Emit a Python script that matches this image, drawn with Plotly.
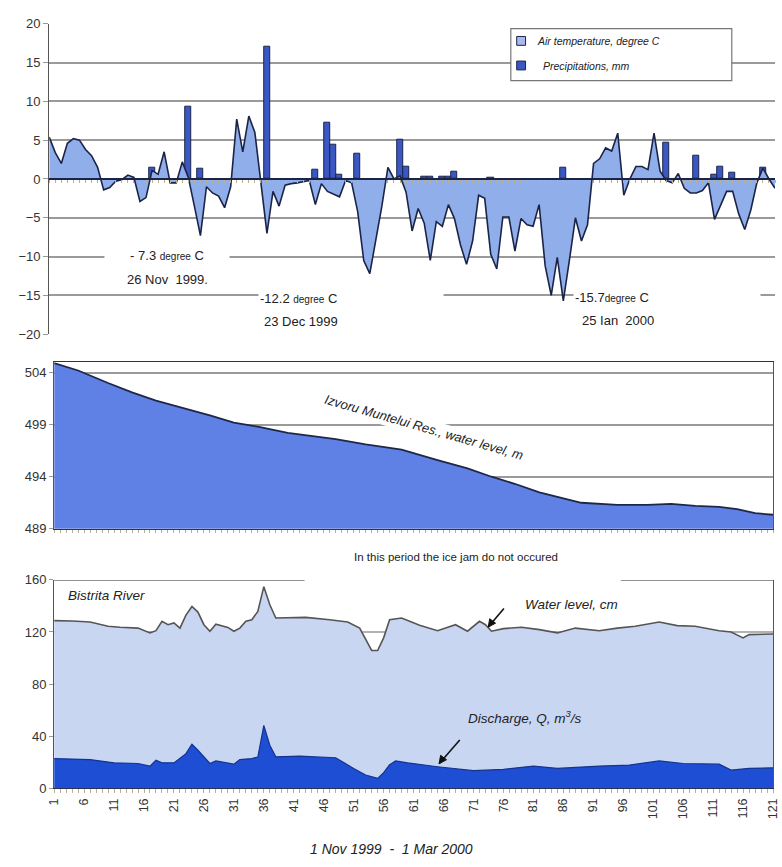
import plotly.graph_objects as go

W, H = 782, 867


def px(x):
    return x / W


def py(y):
    return 1 - y / H


# ---- daily axis (1 Nov 1999 = day 1 ... 1 Mar 2000 = day 121) ----
days = list(range(1, 122))
tick_labels = [str(d) if (d - 1) % 5 == 0 else "" for d in days]

# ---- air temperature, degree C (daily) ----
air_temp = [
    5.4, 3.4, 2.0, 4.6, 5.2, 5.0, 3.8, 3.0, 1.5, -1.4,
    -1.1, -0.3, -0.1, 0.5, 0.2, -2.9, -2.4, 1.1, 0.6, 3.5,
    -0.5, -0.5, 2.2, 0.2, -3.5, -7.3, -1.0, -1.8, -2.2, -3.7,
    -1.0, 7.7, 3.5, 8.1, 6.0, -0.5, -7.0, -1.6, -3.5, -0.8,
    -0.6, -0.5, -0.3, -0.2, -3.3, -0.6, -1.6, -1.9, -2.3, -0.2,
    -0.5, -4.2, -10.5, -12.2, -8.0, -3.5, 1.5, 0.0, 0.4, -1.7,
    -6.7, -3.8, -5.7, -10.5, -5.5, -6.1, -3.3, -5.1, -8.5, -11.0,
    -8.0, -2.1, -2.5, -9.7, -11.6, -4.9, -4.9, -9.3, -5.1, -5.9,
    -6.1, -3.3, -11.2, -15.0, -10.1, -15.7, -10.5, -5.0, -8.0, -5.9,
    2.0, 2.6, 4.0, 3.6, 5.9, -2.1, 0.0, 1.6, 1.6, 1.2,
    5.9, 1.0, -0.2, -0.5, 0.7, -1.2, -1.8, -1.8, -1.5, -0.5,
    -5.2, -3.3, -1.6, -1.6, -4.5, -6.5, -4.0, -0.5, 1.4, 0.0, -1.2,
]

# ---- precipitation, mm ----
precip_day = [18, 24, 26, 37, 45, 47, 48, 49, 52, 59, 60, 63, 64, 66, 67, 68,
              74, 86, 103, 108, 111, 112, 114, 119]
precip_mm = [1.4, 9.3, 1.3, 17.0, 1.2, 7.2, 4.4, 0.5, 3.2, 5.1, 1.6, 0.3, 0.3,
             0.3, 0.3, 1.0, 0.2, 1.4, 4.7, 3.0, 0.5, 1.6, 0.8, 1.5]

# ---- Izvoru Muntelui reservoir, water level, m ----
res_day = [1, 5, 10, 14, 18, 22, 27, 31, 35, 40, 44, 48, 53, 59, 65, 70, 74,
           78, 82, 86, 89, 95, 100, 104, 108, 112, 115, 118, 121]
res_level = [504.9, 504.2, 503.0, 502.1, 501.3, 500.7, 499.9, 499.2, 498.8,
             498.2, 497.9, 497.6, 497.1, 496.6, 495.6, 494.8, 494.0, 493.3,
             492.5, 491.9, 491.5, 491.3, 491.3, 491.4, 491.2, 491.1, 490.9,
             490.5, 490.35]

# ---- Bistrita River, water level, cm ----
wl_day = [1, 4, 7, 10, 12, 15, 17, 18, 19, 20, 21, 22, 23, 24, 25, 26, 27, 28,
          30, 31, 32, 33, 34, 35, 36, 37, 38, 40, 43, 47, 50, 52, 53, 54, 55,
          56, 57, 59, 62, 65, 68, 70, 72, 73, 74, 76, 79, 82, 85, 88, 92, 95,
          98, 102, 105, 108, 112, 114, 116, 117, 121]
wl_cm = [128.7, 128.5, 127.7, 124.4, 123.6, 123.0, 119.3, 121.0, 128.2, 125.6,
         127.0, 123.0, 133.0, 139.6, 135.3, 125.6, 120.6, 126.0, 123.5, 120.6,
         123.0, 128.2, 129.4, 135.8, 154.8, 140.9, 130.7, 130.7, 131.2, 129.4,
         127.7, 123.0, 114.2, 105.8, 105.8, 115.5, 129.4, 130.7, 125.1, 121.0,
         125.6, 120.6, 128.2, 125.6, 120.6, 122.6, 123.6, 121.8, 119.3, 123.0,
         121.0, 123.0, 124.4, 127.7, 124.9, 124.4, 121.0, 120.0, 115.5, 118.0,
         118.5]

# ---- Bistrita River, discharge Q, m3/s ----
q_day = [1, 7, 11, 15, 17, 18, 19, 21, 23, 24, 25, 27, 28, 31, 32, 34, 35, 36,
         37, 38, 42, 46, 48, 51, 53, 55, 56, 57, 58, 60, 65, 71, 76, 81, 85, 92,
         97, 102, 106, 112, 114, 117, 121]
q_val = [22.8, 22.0, 19.5, 19.0, 17.0, 21.6, 19.5, 19.5, 26.6, 33.8, 29.2,
         19.0, 21.0, 18.5, 22.0, 22.8, 24.0, 48.2, 33.0, 24.1, 24.6, 24.1, 23.4,
         15.2, 10.2, 7.6, 12.0, 18.0, 21.0, 19.5, 16.5, 13.5, 14.5, 17.0, 15.2,
         17.0, 17.8, 21.0, 19.0, 18.5, 14.0, 15.2, 15.7]

FONT = "Liberation Sans, Arial, sans-serif"
GRID = "#9A9A9A"
NAVY = "#1B2447"
TICK = "#B9B196"

fig = go.Figure()

# top panel: temperature area + precipitation bars
fig.add_trace(go.Scatter(
    x=days, y=air_temp, mode="lines", fill="tozeroy",
    fillcolor="#8FAEEA", line=dict(color=NAVY, width=1.6),
    xaxis="x", yaxis="y", hoverinfo="skip"))
fig.add_trace(go.Bar(
    x=precip_day, y=precip_mm, width=1.0,
    marker=dict(color="#3B57C4", line=dict(color=NAVY, width=1)),
    xaxis="x", yaxis="y", hoverinfo="skip"))

# middle panel: reservoir level
fig.add_trace(go.Scatter(
    x=res_day, y=res_level, mode="lines", fill="tozeroy",
    fillcolor="#5F80E4", line=dict(color="#1E2747", width=1.8),
    xaxis="x2", yaxis="y2", hoverinfo="skip"))

# bottom panel: river water level and discharge
fig.add_trace(go.Scatter(
    x=wl_day, y=wl_cm, mode="lines", fill="tozeroy",
    fillcolor="#C9D6F2", line=dict(color="#555555", width=1.6),
    xaxis="x3", yaxis="y3", hoverinfo="skip"))
fig.add_trace(go.Scatter(
    x=q_day, y=q_val, mode="lines", fill="tozeroy",
    fillcolor="#1E4ED3", line=dict(color="#15338F", width=1.2),
    xaxis="x3", yaxis="y3", hoverinfo="skip"))

top_dom = [py(333), py(17)]
zero_pos = top_dom[0] + (top_dom[1] - top_dom[0]) * 0.5

tickfont = dict(family=FONT, size=13, color="#333333")

fig.update_layout(
    width=W, height=H,
    margin=dict(l=0, r=0, t=0, b=0),
    paper_bgcolor="white", plot_bgcolor="white",
    showlegend=False,
    bargap=0,
    font=dict(family=FONT, color="#222222"),
    xaxis=dict(
        domain=[px(43), 1.0], range=[1, 121], anchor="free", position=zero_pos,
        showline=True, linecolor=NAVY, linewidth=1.6,
        tickmode="array", tickvals=days, ticks="outside", ticklen=3,
        tickcolor=TICK, showticklabels=False, showgrid=False, zeroline=False),
    yaxis=dict(
        domain=top_dom, range=[-20, 20], anchor="x",
        tickmode="array", tickvals=list(range(-20, 21, 5)),
        showgrid=True, gridcolor=GRID, gridwidth=1.5, zeroline=False,
        showline=True, linecolor="#555555", linewidth=1.2,
        ticks="outside", ticklen=5, tickcolor=GRID, tickfont=tickfont),
    xaxis2=dict(
        domain=[px(48), px(780)], range=[1, 121], anchor="y2",
        showline=True, mirror=True, linecolor="#2A3155", linewidth=1.4,
        tickmode="array", tickvals=days, ticks="outside", ticklen=3,
        tickcolor=TICK, showticklabels=False, showgrid=False, zeroline=False),
    yaxis2=dict(
        domain=[py(531), py(361.4)], range=[489, 505], anchor="x2",
        tickmode="array", tickvals=[489, 494, 499, 504],
        showgrid=True, gridcolor=GRID, gridwidth=1.5, zeroline=False,
        showline=True, mirror=True, linecolor="#555555", linewidth=1.2,
        ticks="outside", ticklen=4, tickcolor=GRID, tickfont=tickfont),
    xaxis3=dict(
        domain=[px(48), px(780)], range=[1, 121], anchor="y3",
        showline=True, linecolor="#2A3155", linewidth=1.4,
        tickmode="array", tickvals=days, ticktext=tick_labels,
        ticks="outside", ticklen=4, tickcolor=TICK, tickangle=-90,
        ticklabeloverflow="allow",
        tickfont=dict(family=FONT, size=12.5, color="#333333"),
        showgrid=False, zeroline=False),
    yaxis3=dict(
        domain=[py(795), py(583)], range=[0, 160], anchor="x3",
        tickmode="array", tickvals=[0, 40, 80, 120, 160],
        showgrid=False, zeroline=False,
        showline=True, mirror=True, linecolor="#555555", linewidth=1.2,
        ticks="outside", ticklen=4, tickcolor=GRID, tickfont=tickfont),
)

shapes = []
# bottom panel grid (drawn under the filled areas)
for v in [40, 80, 120]:
    shapes.append(dict(type="line", xref="x3 domain", yref="y3", x0=0, x1=1,
                       y0=v, y1=v, layer="below",
                       line=dict(color=GRID, width=1.5)))
# bottom panel top border, interrupted by the note
for a, b in [(0, (303 - 48) / 732), ((625 - 48) / 732, 1)]:
    shapes.append(dict(type="line", xref="x3 domain", yref="y3", x0=a, x1=b,
                       y0=160, y1=160, line=dict(color="#6E6E6E", width=1.6)))
# legend box and swatches
shapes.append(dict(type="rect", xref="paper", yref="paper",
                   x0=px(513), x1=px(738), y0=py(75), y1=py(22),
                   fillcolor="white", line=dict(color="#777777", width=1.2)))
shapes.append(dict(type="rect", xref="paper", yref="paper",
                   x0=px(519), x1=px(528), y0=py(39), y1=py(30),
                   fillcolor="#A9B8EE", line=dict(color=NAVY, width=1)))
shapes.append(dict(type="rect", xref="paper", yref="paper",
                   x0=px(519), x1=px(528), y0=py(64), y1=py(55),
                   fillcolor="#3B57C4", line=dict(color=NAVY, width=1)))
# pointer arrows for the river series
for hx, hy, tx, ty in [(490, 631, 506, 612), (440, 770, 461, 746)]:
    shapes.append(dict(type="line", xref="paper", yref="paper",
                       x0=px(tx), y0=py(ty), x1=px(hx), y1=py(hy),
                       line=dict(color="#111111", width=1.6)))
    shapes.append(dict(type="path", xref="paper", yref="paper",
                       path=(f"M {px(hx)},{py(hy)} "
                             f"L {px(hx + 1.5)},{py(hy - 8.5)} "
                             f"L {px(hx + 7.5)},{py(hy - 4)} Z"),
                       fillcolor="#111111", line=dict(color="#111111", width=1)))
fig.update_layout(shapes=shapes)

ann = []


def note(text, x, y, size=13, xanchor="center", bg=None, width=None,
         align="center", angle=0, color="#222222"):
    d = dict(text=text, xref="paper", yref="paper", x=px(x), y=py(y),
             xanchor=xanchor, yanchor="middle", showarrow=False,
             font=dict(family=FONT, size=size, color=color),
             align=align, textangle=angle, borderpad=1)
    if bg:
        d["bgcolor"] = bg
    if width:
        d["width"] = width
    ann.append(d)


deg = "<span style='font-size:10px'>degree</span>"

# temperature minima notes
note(f"- 7.3 {deg} C", 163, 253, bg="white", width=122)
note("26 Nov  1999.", 163, 277)
note(f"-12.2 {deg} C", 256, 297, xanchor="left", bg="white", width=182,
     align="left")
note("23 Dec 1999", 260, 320, xanchor="left")
note(f"-15.7{deg} C", 576, 296, xanchor="left", bg="white", width=184,
     align="left")
note("25 Ian  2000", 583, 319, xanchor="left")

# legend text
note("<i>Air temperature, degree C</i>", 538, 35, size=10.5, xanchor="left")
note("<i>Precipitations, mm</i>", 544, 60, size=10.5, xanchor="left")

# reservoir label
note("<i>Izvoru Muntelui Res., water level, m</i>", 425, 428, size=13,
     bg="white", angle=16)

# river panel notes
note("In this period the ice jam do not occured", 457, 560, size=11.5)
note("<i>Bistrita River</i>", 60, 599, size=13.5, xanchor="left")
note("<i>Water level, cm</i>", 525, 608, size=13.5, xanchor="left")
note("<i>Discharge, Q, m<sup>3</sup>/s</i>", 467, 722, size=13.5,
     xanchor="left")

# x-axis period
note("<i>1 Nov 1999  -  1 Mar 2000</i>", 391, 857, size=14)

fig.update_layout(annotations=ann)

fig.write_html("out.html")
